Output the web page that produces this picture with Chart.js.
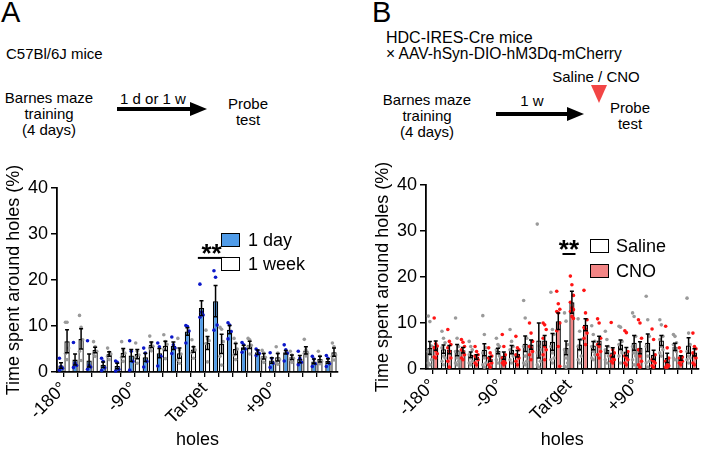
<!DOCTYPE html>
<html lang="en">
<head>
    <meta charset="UTF-8">
    <title>Barnes maze probe test</title>
    <style>
        body {
            margin: 0;
            background: #fff;
        }
        #fig {
            position: relative;
            width: 708px;
            height: 454px;
            overflow: hidden;
            font-family: "Liberation Sans", Arial, sans-serif;
            color: #000;
        }
        .t {
            position: absolute;
            white-space: nowrap;
            transform: translate(-50%, -50%);
            font-size: 15px;
            line-height: 16px;
            text-align: center;
        }
        .l {
            position: absolute;
            white-space: nowrap;
            font-size: 15px;
            line-height: 16px;
        }
        .panel {
            position: absolute;
            font-size: 29px;
            line-height: 29px;
        }
        .box {
            position: absolute;
            width: 17px;
            height: 12px;
            border: 1.5px solid #000;
        }
        .lt {
            position: absolute;
            font-size: 18px;
            line-height: 18px;
            white-space: nowrap;
        }
        canvas {
            position: absolute;
            top: 140px;
        }
        svg {
            position: absolute;
            left: 0;
            top: 0;
        }
    </style>
</head>
<body>

<div id="fig">
    <svg width="708" height="170">
        <line x1="117" y1="109" x2="193" y2="109" stroke="#000" stroke-width="4"/>
        <polygon points="190,102 207,109 190,116" fill="#000"/>
        <line x1="496" y1="114" x2="570" y2="114" stroke="#000" stroke-width="4"/>
        <polygon points="567,107 584,114 567,121" fill="#000"/>
        <polygon points="591,85 607,85 599,103" fill="#f24545"/>
    </svg>

    <!-- panel A header -->
    <div class="panel" style="left:1px;top:-2px">A</div>
    <div class="l" style="left:6px;top:46px">C57Bl/6J mice</div>
    <div class="t" style="left:49px;top:114px">Barnes maze<br>training<br>(4 days)</div>
    <div class="t" style="left:153px;top:99px">1 d or 1 w</div>
    <div class="t" style="left:248px;top:112px">Probe<br>test</div>

    <!-- panel B header -->
    <div class="panel" style="left:372px;top:-2px">B</div>
    <div class="l" style="left:386px;top:30px;font-size:16px">HDC-IRES-Cre mice</div>
    <div class="l" style="left:386px;top:46px;font-size:15.6px">× AAV-hSyn-DIO-hM3Dq-mCherry</div>
    <div class="t" style="left:596px;top:77px">Saline / CNO</div>
    <div class="t" style="left:427px;top:116px">Barnes maze<br>training<br>(4 days)</div>
    <div class="t" style="left:532px;top:101px">1 w</div>
    <div class="t" style="left:630px;top:116px">Probe<br>test</div>

    <canvas id="chartA" width="354" height="314" style="left:0"></canvas>
    <canvas id="chartB" width="354" height="314" style="left:354px"></canvas>

    <!-- legends -->
    <div class="box" style="left:221px;top:233px;background:#4f9be8"></div>
    <div class="lt" style="left:248px;top:231px">1 day</div>
    <div class="box" style="left:221px;top:257px;background:#fff"></div>
    <div class="lt" style="left:248px;top:255px">1 week</div>
    <div class="box" style="left:590px;top:239px;background:#fff"></div>
    <div class="lt" style="left:616px;top:237px">Saline</div>
    <div class="box" style="left:590px;top:264px;background:#f28585"></div>
    <div class="lt" style="left:616px;top:262px">CNO</div>
</div>

<script src="https://cdn.jsdelivr.net/npm/chart.js"></script>
<script>
    // hole angles (20 holes) and the tick texts shown under them
    const holes = [-180, -162, -144, -126, -108, -90, -72, -54, -36, -18, 0, 18, 36, 54, 72, 90, 108, 126, 144, 162];
    const tickLabels = ['-180°', '', '', '', '', '-90°', '', '', '', '', 'Target', '', '', '', '', '+90°', '', '', '', ''];

    // Panel A: 1 day vs 1 week
    const dayMean = [1.4, 2.7, 2.5, 1.6, 1.3, 3.6, 3.2, 4.1, 5.7, 8.8, 13.9, 15.4, 9.2, 5.4, 4.3, 2.5, 4.3, 2.8, 2.3, 2.4];
    const daySem = [0.6, 1.2, 1.4, 0.6, 0.6, 1.3, 0.9, 1.0, 0.8, 0.8, 1.6, 3.4, 0.9, 0.4, 0.5, 0.6, 0.4, 0.8, 0.5, 0.5];
    const weekMean = [6.7, 7.2, 4.8, 3.9, 4.2, 3.9, 5.9, 5.7, 4.1, 4.9, 6.3, 6.1, 5.0, 5.9, 3.4, 3.2, 3.2, 4.7, 2.8, 4.3];
    const weekSem = [2.5, 2.2, 0.6, 0.5, 0.9, 1.0, 0.6, 1.0, 1.1, 0.6, 1.4, 2.1, 1.2, 0.8, 0.6, 0.8, 0.5, 0.8, 0.6, 0.9];
    const dayPts = [
        [3.0, 1.2, 0.8, 0.4], [6.4, 1.9, 1.4, 1.0], [6.8, 1.4, 1.1, 0.6], [3.0, 2.3, 0.9, 0.3],
        [2.4, 2.1, 0.6, 0.2], [6.8, 4.5, 2.3, 0.4], [5.2, 4.1, 2.3, 1.1], [6.3, 5.5, 3.4, 1.3],
        [7.6, 5.9, 5.2, 4.0], [10.1, 9.9, 8.9, 6.3], [19.1, 13.0, 12.4, 11.9], [22.0, 20.6, 10.2, 9.1],
        [10.7, 10.2, 8.8, 7.2], [6.4, 5.9, 5.0, 4.3], [5.0, 4.6, 4.0, 3.6], [4.2, 3.0, 1.9, 1.0],
        [5.9, 4.8, 4.1, 2.4], [4.5, 3.0, 2.1, 1.6], [3.4, 2.8, 1.8, 1.2], [3.6, 3.0, 1.8, 1.2]
    ];
    const weekPts = [
        [10.8, 10.8, 5.2, 4.0, 2.7], [12.3, 9.7, 7.0, 4.5, 2.5], [6.6, 5.5, 4.5, 4.0, 3.4], [5.2, 4.3, 3.9, 3.4, 2.7],
        [6.6, 4.8, 4.1, 3.2, 2.3], [6.3, 4.5, 3.7, 3.1, 1.9], [7.8, 6.3, 5.6, 5.2, 4.6], [8.1, 6.6, 6.0, 4.9, 2.9],
        [7.3, 4.8, 3.9, 2.6, 1.9], [7.0, 5.5, 4.8, 4.2, 3.0], [9.1, 7.2, 6.8, 6.2, 2.2], [9.7, 9.3, 6.6, 3.4, 1.5],
        [7.3, 6.3, 5.0, 3.7, 2.7], [7.3, 7.0, 5.8, 5.5, 3.9], [4.7, 4.1, 3.2, 2.9, 2.1], [5.5, 4.1, 2.7, 2.0, 1.7],
        [4.5, 3.7, 3.0, 2.7, 2.1], [7.1, 4.8, 4.1, 4.0, 3.5], [4.5, 3.4, 2.3, 2.0, 1.8], [6.3, 5.5, 3.7, 3.4, 2.6]
    ];

    // Panel B: Saline vs CNO
    const salMean = [4.6, 4.3, 4.1, 3.1, 4.2, 3.9, 4.2, 5.5, 6.2, 5.9, 4.6, 5.3, 5.1, 4.2, 5.3, 5.7, 5.7, 6.2, 4.8, 5.1];
    const salSem = [1.4, 0.9, 1.2, 0.6, 1.3, 0.6, 0.9, 1.7, 3.8, 1.8, 1.5, 1.1, 0.9, 0.8, 1.0, 1.6, 1.9, 1.1, 0.8, 1.7];
    const cnoMean = [5.1, 4.2, 4.1, 2.6, 2.2, 2.9, 3.3, 5.3, 6.2, 10.4, 14.5, 9.6, 6.2, 3.6, 3.8, 4.6, 3.1, 2.4, 2.4, 3.6];
    const cnoSem = [1.0, 0.9, 0.6, 0.5, 0.5, 0.8, 0.7, 1.0, 1.1, 1.8, 2.4, 1.3, 0.9, 1.0, 0.9, 1.3, 1.0, 1.0, 0.5, 0.8];
    const salPts = [
        [11.5, 10.3, 5.0, 3.8, 3.2, 2.0, 1.3, 0.9], [8.2, 6.7, 5.7, 4.6, 2.8, 2.4, 1.7, 0.9],
        [11.1, 6.7, 4.9, 3.8, 2.4, 1.7, 1.3, 0.9], [6.0, 4.9, 4.2, 3.1, 2.4, 1.7, 1.3, 0.9],
        [11.6, 7.5, 4.6, 3.5, 2.4, 1.3, 0.9, 0.4], [6.7, 5.3, 4.9, 4.2, 3.5, 2.8, 2.0, 1.3],
        [8.6, 6.0, 4.9, 4.2, 3.5, 2.8, 2.0, 1.3], [14.9, 11.1, 6.7, 4.9, 2.8, 1.7, 1.3, 0.9],
        [31.5, 5.0, 4.2, 3.5, 2.8, 1.7, 0.9, 0.4], [16.7, 8.6, 7.5, 4.9, 3.5, 2.4, 2.0, 1.3],
        [12.2, 10.4, 5.3, 4.2, 2.4, 1.3, 0.6, 0.4], [10.9, 8.2, 6.4, 4.9, 4.2, 2.8, 2.0, 1.3],
        [9.4, 7.5, 6.0, 4.9, 3.8, 3.1, 2.4, 2.0], [8.2, 6.4, 4.9, 4.2, 3.5, 2.8, 2.0, 1.3],
        [9.3, 9.1, 6.0, 5.3, 4.2, 3.5, 2.8, 1.3], [12.2, 11.4, 7.1, 4.9, 3.5, 2.8, 2.0, 0.9],
        [15.8, 10.7, 7.1, 4.9, 2.8, 1.7, 1.3, 0.4], [10.7, 9.6, 7.1, 6.4, 4.9, 4.2, 3.5, 2.8],
        [7.5, 7.1, 5.7, 5.3, 4.6, 3.8, 2.4, 2.0], [15.4, 7.8, 5.3, 3.8, 2.8, 2.4, 2.0, 1.3]
    ];
    const cnoPts = [
        [11.1, 5.5, 5.0, 4.6, 4.0, 3.3, 2.6, 2.4], [8.6, 6.0, 5.3, 4.6, 3.8, 2.4, 1.7, 0.4],
        [6.4, 5.8, 4.9, 4.2, 3.8, 3.1, 2.4, 2.0], [4.9, 3.8, 3.1, 2.8, 2.4, 2.0, 1.3, 0.9],
        [4.6, 3.5, 2.8, 2.4, 2.0, 1.3, 0.9, 0.4], [7.5, 4.9, 3.1, 2.4, 1.7, 1.3, 1.3, 0.9],
        [7.1, 4.6, 4.2, 3.1, 2.8, 2.4, 1.7, 0.9], [10.0, 7.8, 6.0, 4.9, 4.6, 3.8, 3.1, 2.0],
        [10.0, 9.6, 8.6, 6.7, 4.9, 4.2, 3.1, 2.0], [16.9, 14.2, 13.0, 12.5, 12.2, 10.0, 8.3, 4.9, 0.6],
        [20.2, 18.3, 16.0, 14.5, 13.3, 12.9, 12.5, 11.4, 11.0], [17.1, 12.2, 10.7, 9.0, 8.6, 7.8, 6.7, 5.3],
        [10.9, 10.0, 6.7, 5.3, 4.9, 3.8, 3.1, 2.4], [10.1, 4.2, 3.5, 2.8, 2.4, 2.0, 1.7, 1.3],
        [8.3, 7.9, 3.8, 2.8, 2.4, 2.0, 1.3, 0.9], [10.7, 10.0, 6.7, 4.2, 2.8, 1.7, 0.9, 0.4],
        [8.7, 6.4, 3.1, 2.0, 1.7, 1.3, 0.7, 0.4], [9.3, 4.6, 2.4, 1.7, 0.9, 0.7, 0.4, 0.4],
        [4.6, 3.8, 2.6, 2.4, 2.0, 1.7, 1.3, 0.9], [7.8, 4.9, 4.4, 3.5, 2.8, 2.4, 1.3, 0.9]
    ];

    // dots, SEM bars and the ** mark, drawn on top of the bars
    const overlay = {
        id: 'overlay',
        afterDatasetsDraw(chart, args, opts) {
            const ctx = chart.ctx;
            const y = chart.scales.y;
            ctx.save();
            opts.groups.forEach((g, d) => {
                const meta = chart.getDatasetMeta(d);
                meta.data.forEach((bar, i) => {
                    ctx.fillStyle = g.dot;
                    g.pts[i].forEach((v, k) => {
                        const dx = ((k % 3) - 1) * bar.width * 0.3;
                        ctx.beginPath();
                        ctx.arc(bar.x + dx, y.getPixelForValue(v), 1.8, 0, 2 * Math.PI);
                        ctx.fill();
                    });
                });
            });
            ctx.strokeStyle = '#000';
            ctx.lineWidth = 1.5;
            opts.groups.forEach((g, d) => {
                const meta = chart.getDatasetMeta(d);
                meta.data.forEach((bar, i) => {
                    const m = chart.data.datasets[d].data[i];
                    const top = y.getPixelForValue(m + g.sem[i]);
                    const bot = y.getPixelForValue(Math.max(0, m - g.sem[i]));
                    ctx.beginPath();
                    ctx.moveTo(bar.x, top);
                    ctx.lineTo(bar.x, bot);
                    ctx.moveTo(bar.x - 2, top);
                    ctx.lineTo(bar.x + 2, top);
                    ctx.moveTo(bar.x - 2, bot);
                    ctx.lineTo(bar.x + 2, bot);
                    ctx.stroke();
                });
            });
            const s = opts.sig;
            const a = chart.getDatasetMeta(0).data[s.from];
            const b = chart.getDatasetMeta(1).data[s.to];
            const x1 = a.x - a.width / 2 - 1, x2 = b.x + b.width / 2 + 1;
            const yy = y.getPixelForValue(s.value);
            ctx.lineWidth = 2;
            ctx.beginPath();
            ctx.moveTo(x1, yy);
            ctx.lineTo(x2, yy);
            ctx.stroke();
            ctx.fillStyle = '#000';
            ctx.font = 'bold 26px "Liberation Sans", Arial, sans-serif';
            ctx.textAlign = 'center';
            ctx.textBaseline = 'alphabetic';
            ctx.fillText('**', (x1 + x2) / 2, yy + 4);
            ctx.restore();
        }
    };

    function makeChart(id, sets, groups, sig, pad, yWidth, xHeight) {
        const font = { family: '"Liberation Sans", Arial, sans-serif', size: 18 };
        return new Chart(document.getElementById(id), {
            type: 'bar',
            data: {
                labels: holes,
                datasets: sets.map(s => ({
                    data: s.data,
                    backgroundColor: s.fill,
                    borderColor: '#000',
                    borderWidth: 1.3,
                    categoryPercentage: 0.86,
                    barPercentage: 0.88
                }))
            },
            options: {
                responsive: false,
                animation: false,
                devicePixelRatio: 1,
                layout: { padding: pad },
                plugins: {
                    legend: { display: false },
                    tooltip: { enabled: false },
                    overlay: { groups: groups, sig: sig }
                },
                scales: {
                    x: {
                        afterFit: s => { s.height = xHeight; },
                        border: { color: '#000', width: 1.8 },
                        grid: { display: true, drawOnChartArea: false, offset: false, color: '#000', lineWidth: 1.3, tickLength: 5 },
                        ticks: {
                            autoSkip: false,
                            maxRotation: 45,
                            minRotation: 45,
                            color: '#000',
                            font: font,
                            padding: 1,
                            callback: (v, i) => tickLabels[i]
                        },
                        title: { display: true, text: 'holes', color: '#000', font: font, padding: { top: 0, bottom: 3 } }
                    },
                    y: {
                        min: 0,
                        max: 40,
                        afterFit: s => { s.width = yWidth; },
                        border: { color: '#000', width: 1.8 },
                        grid: { drawOnChartArea: false, color: '#000', lineWidth: 1.5, tickLength: 6 },
                        ticks: { stepSize: 10, color: '#000', font: font, padding: 3 },
                        title: { display: true, text: 'Time spent around holes (%)', color: '#000', font: font, padding: { top: 2, bottom: 2 } }
                    }
                }
            },
            plugins: [overlay]
        });
    }

    makeChart('chartA',
        [{ data: dayMean, fill: '#4f9be8' }, { data: weekMean, fill: '#ffffff' }],
        [{ pts: dayPts, sem: daySem, dot: '#0b17c9' }, { pts: weekPts, sem: weekSem, dot: '#9a9a9a' }],
        { from: 10, to: 11, value: 24.8 },
        { left: 1, top: 48, right: 16, bottom: 0 }, 56, 82);

    makeChart('chartB',
        [{ data: salMean, fill: '#ffffff' }, { data: cnoMean, fill: '#f28585' }],
        [{ pts: salPts, sem: salSem, dot: '#9a9a9a' }, { pts: cnoPts, sem: cnoSem, dot: '#ff1414' }],
        { from: 10, to: 10, value: 25 },
        { left: 16, top: 45, right: 8, bottom: 0 }, 56, 85);
</script>

</body>
</html>
